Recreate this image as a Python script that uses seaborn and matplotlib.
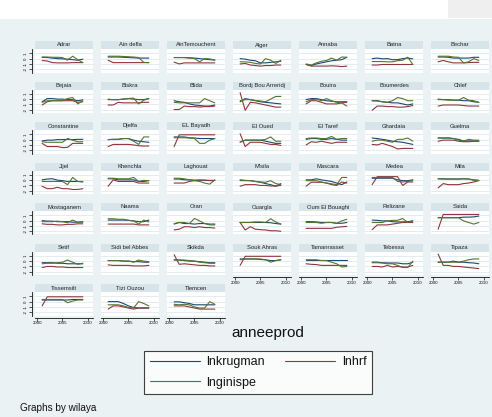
import matplotlib
matplotlib.use("Agg")
import matplotlib.pyplot as plt
import seaborn as sns
import pandas as pd
from matplotlib.patches import Rectangle

# ---------------- data ----------------
years = [2001, 2002, 2003, 2004, 2005, 2006, 2007, 2008, 2009]
series_names = ["lnkrugman", "lnhrf", "lnginispe"]
wilayas = ["Adrar", "Ain defla", "AinTemouchent", "Alger", "Annaba", "Batna", "Bechar",
           "Bejaia", "Biskra", "Blida", "Bordj Bou Arreridj", "Bouira", "Boumerdes", "Chlef",
           "Constantine", "Djelfa", "EL Bayadh", "El Oued", "El Taref", "Ghardaia", "Guelma",
           "Jijel", "Khenchla", "Laghouat", "M'sila", "Mascara", "Medea", "Mila",
           "Mostaganem", "Naama", "Oran", "Ouargla", "Oum El Bouaghi", "Relizane", "Saida",
           "Setif", "Sidi bel Abbes", "Skikda", "Souk Ahras", "Tamanrasset", "Tebessa", "Tipaza",
           "Tissemsilt", "Tizi Ouzou", "Tlemcen"]

lnkrugman = [
    [0.25, 0.2, 0.1, 0.0, -0.05, -0.1, -0.2, -0.3, -0.1],
    [0.3, 0.3, 0.3, 0.25, 0.2, 0.15, 0.1, 0.1, 0.1],
    [0.2, 0.2, 0.2, 0.15, 0.1, 0.0, -0.1, -0.2, -0.25],
    [0.0, -0.1, -0.3, -0.4, -0.8, -0.8, -0.7, -0.6, -0.5],
    [-1.1, -1.3, -1.0, -0.8, -0.6, -0.4, -0.3, -0.2, 0.25],
    [0.0, 0.1, -0.05, 0.0, -0.2, -0.2, 0.0, 0.1, -0.05],
    [0.3, 0.3, 0.25, 0.1, 0.1, 0.1, 0.1, 0.25, 0.25],
    [-0.5, 0.1, 0.1, 0.0, 0.0, -0.1, -0.1, -0.3, -0.15],
    [-0.1, -0.1, -0.1, 0.0, 0.1, 0.0, -0.1, -0.1, 0.1],
    [-0.3, -0.5, -0.6, -0.9, -1.1, -1.2, -1.3, -1.3, -1.1],
    [-0.5, 0.1, -0.1, -0.3, -0.5, -0.6, -0.7, -0.8, -0.9],
    [-0.1, 0.1, 0.1, -0.1, -0.3, -0.4, -0.5, -0.5, -0.5],
    [-0.3, -0.3, -0.5, -0.6, -0.7, -0.7, -0.9, -1.1, -0.9],
    [0.0, -0.1, -0.1, -0.2, -0.2, -0.3, -0.3, -0.5, -0.6],
    [-0.25, -0.1, -0.1, 0.0, 0.0, 0.05, 0.0, 0.05, 0.05],
    [0.0, 0.05, 0.05, 0.2, 0.2, -0.1, -0.3, -0.4, -0.5],
    [0.5, 0.5, 0.5, 0.35, 0.3, 0.2, 0.2, 0.2, 0.2],
    [-0.5, -0.1, -0.1, -0.1, -0.1, -0.3, -0.5, -0.7, -0.7],
    [0.05, 0.2, 0.2, 0.05, 0.05, 0.2, 0.05, -0.1, -0.1],
    [0.3, 0.2, 0.05, -0.1, -0.3, -0.4, -0.5, -0.7, -0.9],
    [0.3, 0.3, 0.3, 0.2, 0.05, -0.25, -0.25, -0.25, -0.25],
    [0.05, 0.2, 0.25, 0.0, -0.1, -0.25, -0.25, -0.25, -0.35],
    [0.25, 0.25, 0.05, 0.05, 0.05, 0.05, -0.25, -0.25, -0.1],
    [0.2, 0.2, 0.05, 0.05, 0.0, 0.0, -0.05, -0.05, -0.05],
    [0.05, -0.05, -0.1, -0.25, -0.4, -0.65, -0.85, -1.15, -0.65],
    [0.05, 0.05, 0.25, 0.05, -0.1, -0.25, -0.55, -0.85, -0.35],
    [0.35, 0.35, 0.35, 0.35, 0.35, 0.05, -0.1, -0.1, 0.05],
    [0.25, 0.25, 0.2, 0.2, 0.2, 0.25, 0.2, 0.05, -0.05],
    [0.0, -0.1, -0.1, -0.2, -0.2, -0.2, -0.3, -0.3, -0.2],
    [0.1, 0.1, 0.1, 0.1, 0.05, -0.05, -0.2, -0.2, 0.1],
    [-0.65, -0.35, -0.55, -0.55, -0.65, -0.55, -0.55, -0.65, -0.65],
    [-0.35, -0.35, -0.35, -0.35, -0.35, -0.35, -0.4, -0.55, -0.65],
    [-0.2, -0.2, -0.25, -0.35, -0.35, -0.35, -0.5, -0.5, -0.35],
    [0.1, 0.05, -0.05, -0.05, -0.2, -0.25, -0.25, -0.2, -0.05],
    [0.55, 0.55, 0.55, 0.55, 0.55, 0.65, 0.65, 0.7, 0.85],
    [-0.3, -0.3, -0.3, -0.4, -0.4, -0.5, -0.5, -0.5, -0.5],
    [0.1, 0.1, 0.1, 0.0, 0.0, -0.1, -0.1, -0.2, -0.2],
    [0.2, 0.2, 0.1, 0.0, 0.0, -0.1, -0.2, -0.3, -0.3],
    [0.4, 0.4, 0.4, 0.4, 0.3, 0.25, 0.1, 0.1, 0.25],
    [0.25, 0.25, 0.25, 0.25, 0.25, 0.25, 0.25, 0.25, 0.25],
    [-0.2, -0.2, -0.3, -0.35, -0.35, -0.35, -0.5, -0.5, -0.2],
    [-0.2, -0.2, -0.2, 0.0, -0.2, -0.2, -0.3, -0.35, -0.5],
    [0.3, 0.3, 0.3, 0.3, 0.3, 0.3, 0.4, 0.4, 0.4],
    [0.0, 0.0, 0.0, -0.35, -0.8, -1.1, -1.2, -1.2, -1.2],
    [-0.05, -0.05, -0.2, -0.35, -0.6, -0.6, -0.6, -0.6, -0.6],
]

lnhrf = [
    [-0.35, -0.45, -0.75, -0.8, -0.8, -0.8, -0.75, -0.75, -0.75],
    [-0.3, -0.75, -0.75, -0.75, -0.75, -0.75, -0.75, -0.75, -0.75],
    [-0.65, -1.0, -0.8, -0.8, -0.8, -0.8, -0.8, -0.8, -0.8],
    [-1.0, -0.9, -1.2, -1.3, -1.4, -1.3, -1.3, -1.2, -1.2],
    [-1.1, -1.4, -1.4, -1.4, -1.4, -1.35, -1.4, -1.5, -1.4],
    [-1.2, -1.2, -1.1, -1.1, -1.1, -1.1, -1.1, -1.1, -1.1],
    [-0.6, -0.35, -0.6, -0.8, -0.8, -0.8, -0.75, -0.7, -0.7],
    [-1.1, -0.5, -0.3, -0.3, -0.3, -0.3, -0.3, -0.6, -0.5],
    [-1.1, -1.1, -0.6, -0.7, -0.7, -0.7, -0.7, -0.6, -0.6],
    [-1.95, -1.95, -1.3, -1.4, -1.4, -1.5, -1.4, -1.4, -1.3],
    [1.2, -2.1, -0.6, -0.7, -0.9, -1.1, -1.3, -1.5, -1.5],
    [-0.9, -0.3, -0.3, -0.6, -0.9, -0.9, -0.9, -0.7, -0.6],
    [-2.1, -1.3, -1.3, -1.4, -1.4, -1.5, -1.5, -1.4, -1.2],
    [-1.3, -1.1, -1.1, -1.1, -1.1, -1.2, -1.3, -1.3, -1.3],
    [-0.7, -1.3, -1.3, -1.3, -1.5, -1.45, -0.7, -0.7, -0.7],
    [-1.3, -0.9, -0.9, -0.9, -0.9, -1.0, -1.15, -1.2, -1.2],
    [-1.3, 0.9, 0.9, 0.9, 0.9, 0.9, 0.9, 0.9, 0.9],
    [1.1, -1.3, -0.5, -0.5, -0.5, -0.7, -0.9, -0.9, -1.1],
    [-1.0, -0.4, -0.5, -0.3, -0.5, -0.7, -0.5, -0.5, -0.5],
    [-0.9, -1.0, -0.7, -1.0, -1.3, -1.75, -1.65, -1.65, -1.65],
    [-0.3, -0.1, -0.1, -0.1, -0.3, -0.4, -0.4, -0.3, -0.3],
    [-1.15, -1.6, -1.6, -1.35, -1.6, -1.6, -1.75, -1.75, -1.6],
    [-1.15, 0.05, -0.25, -0.25, -0.25, -0.25, -0.55, -0.55, -0.55],
    [-0.55, -0.55, -0.55, -0.25, -0.1, 0.0, 0.0, -0.1, -0.1],
    [-1.15, -0.85, -0.85, -0.85, -1.0, -1.0, -1.1, -1.1, -1.0],
    [-1.15, -0.4, -0.4, -0.4, -0.55, -0.85, -1.0, -0.35, -0.55],
    [-0.85, 0.65, 0.65, 0.65, 0.65, 0.65, -1.0, -0.35, -0.35],
    [-1.45, -0.65, -0.85, -0.85, -0.85, -0.65, -0.55, -0.35, -0.1],
    [-0.6, -0.7, -0.7, -0.8, -0.8, -0.7, -0.7, -0.6, -0.6],
    [-0.65, -0.65, -0.65, -0.65, -0.65, -0.65, -0.8, -0.8, -0.8],
    [-1.75, -1.6, -1.15, -1.15, -1.3, -1.15, -1.3, -1.3, -1.4],
    [-0.35, -1.75, -1.15, -1.6, -1.7, -1.75, -1.9, -1.9, -2.0],
    [-1.45, -1.45, -1.45, -1.45, -1.45, -1.45, -1.25, -1.15, -1.1],
    [-1.7, -0.8, -0.8, -0.8, -0.65, -0.5, -0.35, -0.35, -0.35],
    [-1.6, 1.15, 1.15, 1.15, 1.15, 1.15, 1.15, 1.15, 1.15],
    [-1.2, -1.0, -1.0, -1.1, -1.1, -1.2, -1.2, -1.2, -1.2],
    [-0.7, -0.8, -0.8, -0.8, -0.8, -0.9, -0.9, -0.9, -0.8],
    [1.2, -0.6, -0.5, -0.6, -0.7, -0.8, -0.8, -0.9, -0.9],
    [-0.8, 0.9, 0.9, 0.9, 0.9, 0.9, 0.9, 0.9, 0.9],
    [-0.5, -0.6, -0.65, -0.8, -0.8, -0.8, -0.8, -0.8, -0.8],
    [-1.0, -1.0, -1.1, -0.8, -1.1, -1.0, -1.1, -1.1, -0.8],
    [1.3, -0.8, -0.8, -1.0, -1.0, -1.1, -1.2, -1.3, -1.4],
    [-0.8, 0.9, 0.9, 0.9, 0.9, 0.9, 0.9, 0.9, 0.9],
    [-1.4, -0.8, -0.8, -1.0, -1.2, -1.4, -1.2, -1.2, -1.2],
    [-0.8, -0.8, -0.8, -1.0, -1.2, -1.4, -1.4, -1.4, -1.4],
]

lnginispe = [
    [0.3, 0.3, 0.25, 0.25, 0.2, -0.3, 0.45, -0.2, -0.75],
    [0.45, 0.45, 0.45, 0.4, 0.35, 0.3, 0.2, -0.7, -0.75],
    [0.2, 0.2, 0.2, 0.1, 0.0, -0.6, 0.0, -0.05, -0.3],
    [-0.6, -0.6, -0.7, -0.9, -1.0, 0.0, -0.3, -0.9, -0.3],
    [-1.0, -1.2, -0.8, -0.5, -0.35, 0.1, -0.3, 0.3, 0.25],
    [-0.55, -0.55, -0.55, -0.6, -0.6, -0.4, -0.3, 0.25, -1.1],
    [0.45, 0.45, 0.45, 0.3, 0.25, -0.8, -0.6, 0.0, -0.35],
    [-0.6, -0.3, -0.3, -0.3, -0.3, 0.1, 0.3, -0.9, -0.3],
    [0.0, -0.1, -0.1, 0.0, 0.1, 0.2, -0.9, -0.2, 0.1],
    [-0.6, -0.7, -0.7, -0.7, -0.7, -0.7, 0.1, -0.3, -0.7],
    [-0.3, -0.1, -0.1, -0.25, -0.35, -0.5, 0.0, 0.5, 0.5],
    [-0.5, -0.1, 0.0, -0.3, 0.1, -0.3, -0.6, -0.7, -1.3],
    [-0.3, -0.35, -0.5, -0.6, -0.3, 0.3, 0.1, -0.3, -0.3],
    [-0.1, -0.1, -0.2, -0.2, -0.2, 0.3, -0.2, -0.3, -0.6],
    [-0.4, -0.5, -0.5, -0.5, -0.5, 0.2, -0.1, -0.4, -0.4],
    [0.0, 0.05, 0.05, 0.2, 0.2, -0.3, -0.9, 0.5, 0.5],
    [0.35, 0.35, 0.35, 0.3, 0.2, -0.7, -0.7, -0.1, 0.2],
    [-0.4, -0.1, -0.1, -0.1, -0.1, 0.05, 0.5, -0.3, -0.3],
    [0.2, 0.3, 0.3, 0.2, 0.2, 0.6, 0.05, 0.2, 0.2],
    [-0.3, -0.1, -0.1, -0.3, -0.5, 0.05, 0.05, 0.3, -0.3],
    [0.3, 0.3, 0.3, 0.2, -0.1, -0.25, 0.05, -0.1, -0.1],
    [-0.25, -0.25, -0.25, -0.25, -0.25, -0.85, 0.5, -0.25, -0.25],
    [0.35, 0.35, 0.25, 0.25, 0.25, 0.5, -0.25, -0.05, -0.1],
    [0.35, 0.35, 0.25, 0.05, -0.1, -0.25, -0.55, -0.75, 0.05],
    [-0.1, -0.1, -0.1, -0.25, -0.35, -0.4, -0.1, -0.65, -0.85],
    [-0.1, -0.1, -0.1, -0.35, -0.55, -0.7, -0.85, 0.5, 0.5],
    [0.5, 0.5, 0.5, 0.5, 0.5, -0.25, -0.35, -0.25, -0.1],
    [0.25, 0.2, 0.2, 0.2, 0.2, 0.25, 0.2, -0.05, -0.05],
    [-0.2, -0.2, -0.2, -0.1, -0.2, -0.4, 0.1, -0.3, -0.3],
    [0.35, 0.35, 0.25, 0.25, 0.05, -0.05, -0.65, 0.1, -0.25],
    [-0.55, -0.35, -0.35, -0.55, 0.4, -0.05, -0.55, -0.8, -0.8],
    [-0.35, -0.35, -0.35, -0.25, -0.25, -0.35, 0.35, -0.25, -0.65],
    [-0.35, -0.35, -0.35, -0.5, -0.35, -0.35, -0.5, -0.05, 0.25],
    [-0.35, -0.35, -0.35, -0.05, 0.05, 0.05, 0.4, -0.35, -0.05],
    [0.55, 0.55, 0.55, 0.55, 0.55, -0.05, -0.35, -0.65, -0.35],
    [-0.5, -0.4, -0.4, -0.3, -0.2, 0.2, -0.2, -0.6, -0.4],
    [0.1, 0.1, 0.1, 0.0, 0.0, -0.2, 0.2, 0.0, -0.1],
    [0.3, 0.2, 0.2, 0.1, 0.0, -0.2, -0.3, -0.4, -0.4],
    [0.25, 0.4, 0.4, 0.4, 0.4, 0.25, -0.2, 0.1, 0.25],
    [0.25, 0.25, 0.25, 0.1, 0.1, -0.2, -0.5, -1.1, -1.0],
    [-0.3, -0.3, -0.35, -0.5, -0.5, -0.8, -1.2, -1.2, 0.0],
    [-0.2, -0.2, -0.2, -0.2, -0.2, 0.0, 0.25, 0.4, 0.4],
    [0.4, 0.4, 0.4, 0.4, 0.4, -0.2, 0.1, 0.3, 0.3],
    [-0.6, -0.6, -0.6, -0.8, -1.1, -1.2, 0.0, -0.35, -0.8],
    [-0.5, -0.6, -0.5, -0.6, -1.0, -1.2, -1.2, 0.0, -0.5],
]

y_ticks = [-2, -1, 0, 1]
x_ticks = [2000, 2005, 2010]

# ---------------- style ----------------
BG = "#EAF2F3"
STRIP = "#D7E4E9"
GRID = "#E3EDEF"
palette = {"lnkrugman": "#1A476F", "lnhrf": "#90353B", "lnginispe": "#55752F"}

sns.set_theme(style="white")
plt.rcParams["font.family"] = ["Liberation Sans", "DejaVu Sans"]

W, H = 492, 417
fig = plt.figure(figsize=(W / 100, H / 100), dpi=100, facecolor=BG)

# white band at the very top
TOPB = 19
fig.patches.append(Rectangle((0, 1 - TOPB / H), 1, TOPB / H, transform=fig.transFigure,
                             facecolor="white", edgecolor="none", zorder=0))
fig.patches.append(Rectangle((448 / W, 1 - (TOPB - 1) / H), 44 / W, (TOPB - 1) / H,
                             transform=fig.transFigure,
                             facecolor="#EFEFEF", edgecolor="none", zorder=0))

rows = []
for w, k, h, g in zip(wilayas, lnkrugman, lnhrf, lnginispe):
    for name, vals in zip(series_names, (k, h, g)):
        for yr, v in zip(years, vals):
            rows.append({"wilaya": w, "series": name, "anneeprod": yr, "value": v})
df = pd.DataFrame(rows)

ncol = 7
pw, ph, sh = 58, 23.5, 8
n = len(wilayas)
first_ax = None
for i, w in enumerate(wilayas):
    r, c = divmod(i, ncol)
    x0 = 35 + 66 * c
    stop = 41 + 40.5 * r
    ptop = stop + sh
    # strip
    fig.patches.append(Rectangle((x0 / W, 1 - ptop / H), pw / W, sh / H,
                                 transform=fig.transFigure, facecolor=STRIP,
                                 edgecolor="none"))
    fig.text((x0 + pw / 2) / W, 1 - (stop + sh / 2) / H, w, ha="center", va="center",
             fontsize=4.2, color="#222222")
    ax = fig.add_axes([x0 / W, 1 - (ptop + ph) / H, pw / W, ph / H])
    ax.set_facecolor("white")
    sub = df[df["wilaya"] == w]
    sns.lineplot(data=sub, x="anneeprod", y="value", hue="series",
                 hue_order=series_names, palette=palette, legend=False,
                 errorbar=None, linewidth=0.8, ax=ax)
    if first_ax is None:
        first_ax = ax
    ax.set_xlim(1999.6, 2011.0)
    ax.set_ylim(-2.6, 1.8)
    ax.set_yticks(y_ticks)
    ax.set_xticks(x_ticks)
    ax.yaxis.grid(True, color=GRID, linewidth=0.7)
    ax.xaxis.grid(False)
    ax.set_axisbelow(True)
    ax.set_xlabel("")
    ax.set_ylabel("")
    for s in ax.spines.values():
        s.set_visible(False)
    is_bottom = (i + ncol >= n)
    if c == 0:
        ax.spines["left"].set_visible(True)
        ax.spines["left"].set_position(("outward", 2))
        ax.spines["left"].set_color("#111111")
        ax.spines["left"].set_linewidth(0.6)
        ax.tick_params(axis="y", left=True, length=2.2, width=0.5, pad=0.8,
                       labelsize=3.2, colors="#111111")
        ax.set_yticklabels([str(t) for t in y_ticks], rotation=90, va="center")
    else:
        ax.tick_params(axis="y", left=False, labelleft=False)
    if is_bottom:
        ax.spines["bottom"].set_visible(True)
        ax.spines["bottom"].set_position(("outward", 1.5))
        ax.spines["bottom"].set_color("#111111")
        ax.spines["bottom"].set_linewidth(0.6)
        ax.tick_params(axis="x", bottom=True, length=2.0, width=0.5, pad=0.8,
                       labelsize=3.2, colors="#111111")
    else:
        ax.tick_params(axis="x", bottom=False, labelbottom=False)

# x-axis title
fig.text(268 / W, 1 - 333 / H, "anneeprod", ha="center", va="center", fontsize=11,
         color="#111111")

# legend
lines = first_ax.get_lines()
handles = [lines[0], lines[2], lines[1]]
labels = ["lnkrugman", "lnginispe", "lnhrf"]
leg = fig.legend(handles, labels, ncol=2, loc="center",
                 bbox_to_anchor=(258 / W, 1 - 372.5 / H), frameon=True, fancybox=False,
                 fontsize=9, handlelength=4.0, handletextpad=0.55, columnspacing=1.6,
                 borderpad=0.45, labelspacing=0.65, borderaxespad=0)
leg.get_frame().set_edgecolor("#111111")
leg.get_frame().set_linewidth(0.8)
leg.get_frame().set_facecolor("white")
for t in leg.get_texts():
    t.set_color("#111111")

fig.text(20 / W, 1 - 408 / H, "Graphs by wilaya", ha="left", va="center", fontsize=7.2,
         color="#111111")

fig.savefig("out.png", dpi=100, facecolor=BG)
